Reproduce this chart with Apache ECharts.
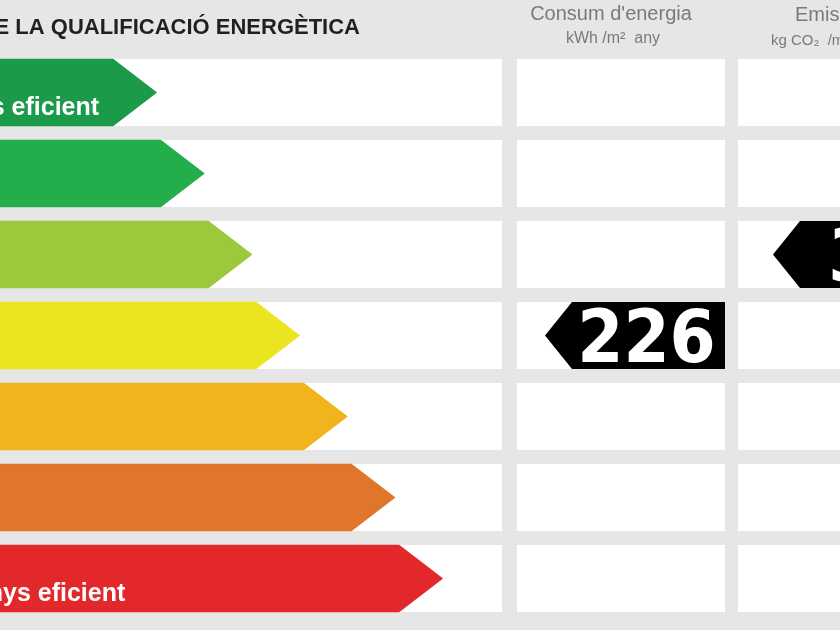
<!DOCTYPE html>
<html>
<head>
<meta charset="utf-8">
<script src="https://cdn.jsdelivr.net/npm/echarts@6/dist/echarts.min.js"></script>
<style>html,body{margin:0;padding:0;background:#e6e6e6}#c{width:840px;height:630px}</style>
</head>
<body>
<div id="c"></div>
<script>
// ---- data ----
const grades = ['A', 'B', 'C', 'D', 'E', 'F', 'G'];
const gradeColors = ['#1b9a4a', '#23ae4b', '#9cc83b', '#ebe521', '#f1b41c', '#e0762a', '#e2282a'];
const arrowSteps = [1, 2, 3, 4, 5, 6, 7];
const gradeLabels = ['Més eficient', '', '', '', '', '', 'Menys eficient'];
const titleText = 'ESCALA DE LA QUALIFICACIÓ ENERGÈTICA';
const headers = [
  ['Consum d\'energia', 'kWh /m\u00B2  any'],
  ['Emissions', 'kg CO\u2082  /m\u00B2 any']
];
const indicatorValues = ['226', '38'];
const indicatorGrades = ['D', 'C'];

// ---- layout ----
const FONT = '"Liberation Sans", Arial, sans-serif';
const COLS = [[-10, 502], [517, 725], [738, 960]];
const IND_TIP = [28, 35];
const IND_W = 180;
const TIP_DEPTH = 43;

const chart = echarts.init(document.getElementById('c'), null, {renderer: 'canvas'});

function cellBox(api, idx) {
  const c = api.coord([0, idx]);
  const band = api.size([0, 1])[1];
  const h = band * 67 / 81;
  return {cy: c[1], top: c[1] - h / 2, h: h};
}

const option = {
  backgroundColor: '#e6e6e6',
  animation: false,
  grid: {left: 0, right: 0, top: 52, bottom: 11},
  xAxis: {type: 'value', min: -2.2935, max: 15.3275, show: false},
  yAxis: {type: 'category', data: grades, inverse: true, show: false},
  series: [
    {
      type: 'custom',
      silent: true,
      data: grades.map((g, i) => [0, i]),
      renderItem: function (params, api) {
        const b = cellBox(api, api.value(1));
        return {
          type: 'group',
          children: COLS.map(col => ({
            type: 'rect',
            shape: {x: col[0], y: b.top, width: col[1] - col[0], height: b.h},
            style: {fill: '#ffffff'}
          }))
        };
      }
    },
    {
      type: 'custom',
      silent: true,
      data: grades.map((g, i) => [arrowSteps[i], i]),
      renderItem: function (params, api) {
        const i = params.dataIndex;
        const b = cellBox(api, api.value(1));
        const tip = api.coord([api.value(0), api.value(1)])[0] - 1;
        const children = [{
          type: 'polygon',
          shape: {points: [[-20, b.top + 0.5], [tip - TIP_DEPTH, b.top + 0.5], [tip, b.cy], [tip - TIP_DEPTH, b.top + b.h - 0.5], [-20, b.top + b.h - 0.5]]},
          style: {fill: gradeColors[i], stroke: gradeColors[i], lineWidth: 1.5, lineJoin: 'round'}
        }];
        if (gradeLabels[i]) {
          children.push({
            type: 'text',
            style: {
              text: gradeLabels[i], x: i === 0 ? -44 : -47, y: b.top + b.h * 0.73,
              fill: '#ffffff', font: 'bold 25px ' + FONT,
              align: 'left', verticalAlign: 'middle',
              textAlign: 'left', textVerticalAlign: 'middle'
            }
          });
        }
        return {type: 'group', children: children};
      }
    },
    {
      type: 'custom',
      silent: true,
      data: indicatorValues.map((v, k) => [k, grades.indexOf(indicatorGrades[k])]),
      renderItem: function (params, api) {
        const k = params.dataIndex;
        const b = cellBox(api, api.value(1));
        const x0 = COLS[k + 1][0] + IND_TIP[k];
        const x1 = x0 + 27;
        const x2 = x0 + IND_W;
        return {
          type: 'group',
          children: [
            {
              type: 'polygon',
              shape: {points: [[x0, b.cy], [x1, b.top], [x2, b.top], [x2, b.top + b.h], [x1, b.top + b.h]]},
              style: {fill: '#000000'}
            },
            {
              type: 'text',
              x: (x1 + x2) / 2 - 2, y: b.cy + 8,
              scaleX: 0.91,
              style: {
                text: indicatorValues[k], x: 0, y: 0,
                fill: '#ffffff', font: 'bold 73px "DejaVu Sans", sans-serif',
                align: 'center', verticalAlign: 'middle',
                textAlign: 'center', textVerticalAlign: 'middle'
              }
            }
          ]
        };
      }
    }
  ],
  graphic: [
    {type: 'text', x: 360, y: 28, style: {text: titleText, fill: '#231f20', font: 'bold 22px ' + FONT, align: 'right', verticalAlign: 'middle', textAlign: 'right', textVerticalAlign: 'middle'}},
    {type: 'text', x: 611, y: 14, style: {text: headers[0][0], fill: '#7a7a7a', font: '20px ' + FONT, align: 'center', verticalAlign: 'middle', textAlign: 'center', textVerticalAlign: 'middle'}},
    {type: 'text', x: 613, y: 39, style: {text: headers[0][1], fill: '#7a7a7a', font: '16px ' + FONT, align: 'center', verticalAlign: 'middle', textAlign: 'center', textVerticalAlign: 'middle'}},
    {type: 'text', x: 795, y: 15, style: {text: headers[1][0], fill: '#7a7a7a', font: '20px ' + FONT, align: 'left', verticalAlign: 'middle', textAlign: 'left', textVerticalAlign: 'middle'}},
    {type: 'text', x: 771, y: 41, style: {text: headers[1][1], fill: '#7a7a7a', font: '15px ' + FONT, align: 'left', verticalAlign: 'middle', textAlign: 'left', textVerticalAlign: 'middle'}}
  ]
};
chart.setOption(option);
</script>
</body>
</html>
